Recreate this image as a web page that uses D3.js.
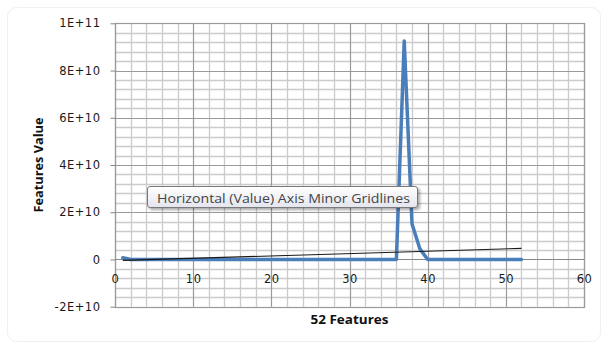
<!DOCTYPE html>
<html><head><meta charset="utf-8">
<script src="https://cdn.jsdelivr.net/npm/d3@7"></script>
<style>html,body{margin:0;padding:0;background:#fff;}svg{display:block;}</style>
</head><body>
<svg id="chart" width="604" height="345"></svg>
<script>
// ---- data ----
const features = [1,2,3,4,5,6,7,8,9,10,11,12,13,14,15,16,17,18,19,20,21,22,23,24,25,26,
  27,28,29,30,31,32,33,34,35,36,37,38,39,40,41,42,43,44,45,46,47,48,49,50,51,52];
const featureValues = [0.07e10,0,0,0,0,0,0,0,0,0,0,0,0,0,0,0,0,0,0,0,0,0,0,0,0,0,
  0,0,0,0,0,0,0,0,0,0,9.25e10,1.5e10,0.45e10,0,0,0,0,0,0,0,0,0,0,0,0,0];
const trendX = [1, 52];
const trendY = [-0.04e10, 0.47e10];
const xTicks = [0,10,20,30,40,50,60];
const yTicks = [-2e10,0,2e10,4e10,6e10,8e10,1e11];
const yTickLabels = ["-2E+10","0","2E+10","4E+10","6E+10","8E+10","1E+11"];
const xTitle = "52 Features";
const yTitle = "Features Value";
const tooltipText = "Horizontal (Value) Axis Minor Gridlines";

const svg = d3.select("#chart");
const L = 115, R = 584, T = 23.3, B = 306.7;
const x = d3.scaleLinear().domain([0,60]).range([L,R]);
const y = d3.scaleLinear().domain([-2e10,1e11]).range([B,T]);

// outer chart border (very faint)
svg.append("rect").attr("x",7.5).attr("y",7.5).attr("width",593).attr("height",334)
  .attr("rx",9).attr("fill","none").attr("stroke","#f0f0f0");

const defs = svg.append("defs");
const g1 = defs.append("linearGradient").attr("id","tipg").attr("x1",0).attr("y1",0).attr("x2",0).attr("y2",1);
g1.append("stop").attr("offset","0%").attr("stop-color","#ffffff");
g1.append("stop").attr("offset","100%").attr("stop-color","#e4e5ee");
const f = defs.append("filter").attr("id","sh").attr("x","-10%").attr("y","-30%").attr("width","130%").attr("height","180%");
f.append("feGaussianBlur").attr("in","SourceAlpha").attr("stdDeviation",1.5);
f.append("feOffset").attr("dx",2).attr("dy",2).attr("result","ob");
f.append("feComponentTransfer").append("feFuncA").attr("type","linear").attr("slope",0.35);
const fm = f.append("feMerge"); fm.append("feMergeNode"); fm.append("feMergeNode").attr("in","SourceGraphic");

// minor gridlines
const grid = svg.append("g");
const xMinor = d3.range(0,61,2).filter(v => v % 10 !== 0);
const yMinor = d3.range(-20,101,4).map(v => v*1e9).filter(v => Math.round(v/1e9) % 20 !== 0);
grid.selectAll(".vx").data(xMinor).join("line")
  .attr("x1",d=>Math.round(x(d))+0.5).attr("x2",d=>Math.round(x(d))+0.5)
  .attr("y1",T).attr("y2",B).attr("stroke","#cbcbcb").attr("stroke-width",1.3);
grid.selectAll(".hy").data(yMinor).join("line")
  .attr("y1",d=>Math.round(y(d))+0.5).attr("y2",d=>Math.round(y(d))+0.5)
  .attr("x1",L).attr("x2",R).attr("stroke","#cbcbcb").attr("stroke-width",1.3);
// major gridlines
grid.selectAll(".vX").data(xTicks).join("line")
  .attr("x1",d=>Math.round(x(d))+0.5).attr("x2",d=>Math.round(x(d))+0.5)
  .attr("y1",T).attr("y2",B).attr("stroke","#9a9a9a").attr("stroke-width",1.2);
grid.selectAll(".hY").data(yTicks).join("line")
  .attr("y1",d=>Math.round(y(d))+0.5).attr("y2",d=>Math.round(y(d))+0.5)
  .attr("x1",L).attr("x2",R).attr("stroke","#9a9a9a").attr("stroke-width",1.2);
// frame
svg.append("rect").attr("x",L+0.5).attr("y",Math.round(T)+0.5).attr("width",R-L)
  .attr("height",Math.round(B)-Math.round(T)).attr("fill","none").attr("stroke","#9a9a9a").attr("stroke-width",1.2);
// zero axis line
svg.append("line").attr("x1",L).attr("x2",R).attr("y1",Math.round(y(0))+0.5).attr("y2",Math.round(y(0))+0.5)
  .attr("stroke","#868686").attr("stroke-width",1.2);

// y axis
const yAxis = d3.axisLeft(y).tickValues(yTicks).tickSize(5).tickPadding(10)
  .tickFormat((d,i)=>yTickLabels[i]);
const ya = svg.append("g").attr("transform",`translate(${L+0.5},0)`).call(yAxis);
ya.select(".domain").remove();
ya.selectAll(".tick line").attr("stroke","#868686");
ya.selectAll(".tick text").attr("font-family","DejaVu Sans").attr("font-size","11.5px")
  .attr("letter-spacing","0.5px").attr("fill","#1a1a1a");

// x axis labels (axis crosses at y=0)
const xAxis = d3.axisBottom(x).tickValues(xTicks).tickSize(0).tickPadding(15);
const xa = svg.append("g").attr("transform",`translate(0,${y(0)})`).call(xAxis);
xa.select(".domain").remove();
xa.selectAll(".tick text").attr("font-family","DejaVu Sans").attr("font-size","11.5px")
  .attr("letter-spacing","0.5px").attr("fill","#1a1a1a");

// series line
const line = d3.line().x((d,i)=>x(features[i])).y(d=>y(d));
svg.append("path").datum(featureValues).attr("d",line).attr("fill","none")
  .attr("stroke","#4a7ebb").attr("stroke-width",3.5).attr("stroke-linejoin","round").attr("stroke-linecap","round");
// trendline
const tline = d3.line().x((d,i)=>x(trendX[i])).y(d=>y(d));
svg.append("path").datum(trendY).attr("d",tline).attr("fill","none")
  .attr("stroke","#1a1a1a").attr("stroke-width",1.1);

// axis titles
svg.append("text").attr("x",x(30)).attr("y",324).attr("text-anchor","middle")
  .attr("font-family","Open Sans").attr("font-weight","bold").attr("font-size","13px")
  .attr("textLength",78).attr("lengthAdjust","spacingAndGlyphs").attr("fill","#111").text(xTitle);
svg.append("text").attr("transform",`translate(43,${(T+B)/2}) rotate(-90)`).attr("text-anchor","middle")
  .attr("font-family","Open Sans").attr("font-weight","bold").attr("font-size","13px")
  .attr("textLength",95).attr("lengthAdjust","spacingAndGlyphs").attr("fill","#111").text(yTitle);

// tooltip
const tip = svg.append("g");
tip.append("rect").attr("x",147.5).attr("y",186.5).attr("width",270).attr("height",21).attr("rx",2.5)
  .attr("fill","url(#tipg)").attr("stroke","#7a7a7a").attr("filter","url(#sh)");
tip.append("text").attr("x",157).attr("y",199.5).attr("font-family","Open Sans").attr("font-size","12.5px")
  .attr("textLength",253).attr("lengthAdjust","spacingAndGlyphs").attr("fill","#454545")
  .attr("dominant-baseline","middle").text(tooltipText);
</script>
</body></html>
